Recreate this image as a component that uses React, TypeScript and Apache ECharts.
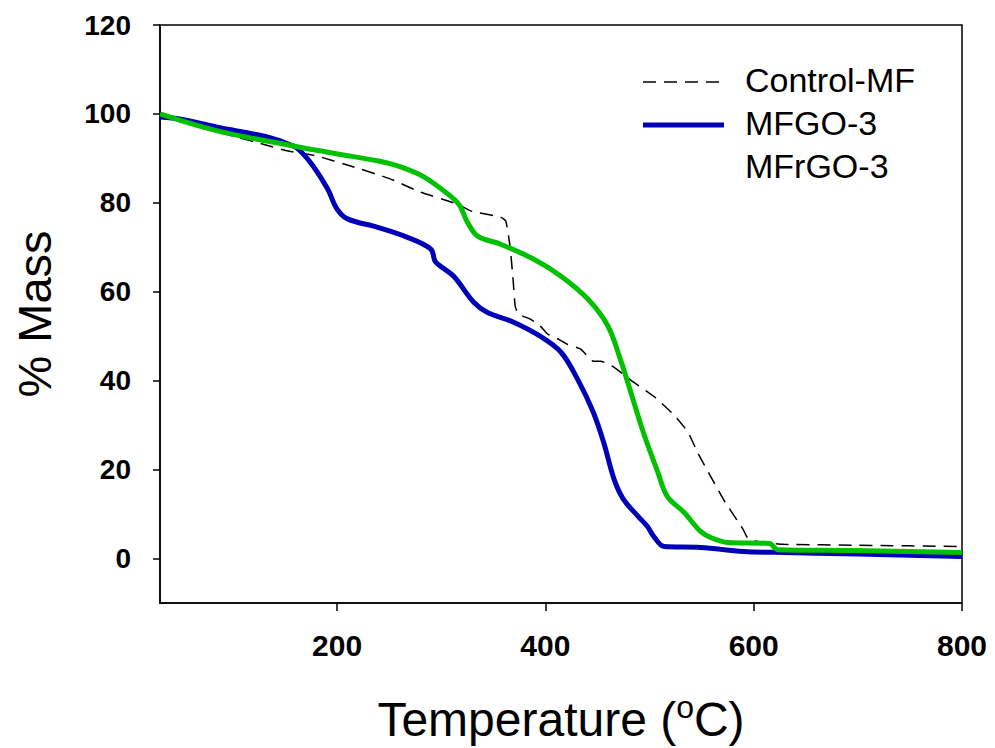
import React, { useEffect, useRef } from "react";
import * as echarts from "echarts";

const controlT = [30, 60, 100, 129, 152, 181, 213, 251, 280, 316, 328, 357, 362, 366, 369, 371, 374, 386, 395, 402, 413, 421, 434, 446, 453, 466, 485, 504, 523, 537, 546, 571, 590, 594, 604, 629, 700, 800];
const controlMass = [100, 97.5, 95, 93.2, 91.7, 90.5, 88.3, 85.4, 82.4, 79.7, 78.2, 76.8, 75.9, 70.3, 62.8, 56.8, 55, 53.8, 52.3, 50.5, 49.3, 48.2, 47.1, 44.4, 44.4, 43, 39.6, 36.5, 32.4, 28.4, 23.9, 13.3, 6.5, 4.7, 3.8, 3.2, 3.0, 2.7];

const mfgoT = [30, 50, 85, 133, 158, 165, 177, 191, 200, 210, 239, 267, 290, 294, 299, 312, 331, 344, 369, 395, 415, 431, 446, 456, 466, 475, 489, 498, 504, 514, 549, 590, 619, 700, 800];
const mfgoMass = [99.3, 98.8, 97, 94.8, 92.8, 91.6, 88.3, 83.1, 78.6, 76.4, 74.5, 72.3, 69.6, 66.9, 65.8, 63.5, 57.7, 55.4, 53.2, 50, 46.4, 40.3, 32.9, 26.1, 17.8, 13.3, 9.5, 7.2, 5, 2.7, 2.5, 1.6, 1.4, 1.0, 0.45];

const mfrgoT = [30, 85, 158, 213, 240, 261, 283, 309, 318, 325, 335, 357, 389, 415, 441, 460, 472, 482, 494, 508, 517, 533, 549, 559, 575, 615, 623, 693, 800];
const mfrgoMass = [100, 96.2, 92.8, 90.5, 89.4, 88.1, 85.9, 81.5, 79.3, 75.7, 72.5, 70.7, 67.3, 63.5, 58.3, 52.3, 44.8, 37.4, 28.4, 19.4, 14, 10.4, 6.1, 4.7, 3.6, 3.4, 2, 1.8, 1.35];

const seriesNames = ["Control-MF", "MFGO-3", "MFrGO-3"];
const xTicks = [200, 400, 600, 800];
const yTicks = [0, 20, 40, 60, 80, 100, 120];

const zip = (a: number[], b: number[]) => a.map((t, i) => [t, b[i]]);

export default function App() {
  const ref = useRef<HTMLDivElement>(null);
  useEffect(() => {
    if (!ref.current) return;
    const chart = echarts.init(ref.current, null, { renderer: "svg" });
    const font = "'Liberation Sans', Arial, sans-serif";
    chart.setOption({
      animation: false,
      textStyle: { fontFamily: font },
      grid: { left: 160, right: 33, top: 25, bottom: 145, show: true, borderColor: "#000", borderWidth: 1.5, backgroundColor: "transparent" },
      xAxis: {
        type: "value",
        min: 30,
        max: 800,
        name: "Temperature ({s|o}C)",
        nameLocation: "middle",
        nameGap: 88,
        nameTextStyle: {
          fontSize: 48,
          color: "#000",
          fontFamily: font,
          rich: { s: { fontSize: 32, color: "#000", fontFamily: font, padding: [0, 0, 24, 0] } },
        },
        axisLine: { onZero: false, lineStyle: { color: "#000", width: 1.5 } },
        axisTick: { customValues: xTicks, length: 8, lineStyle: { color: "#000", width: 1.5 } },
        axisLabel: { customValues: xTicks, fontSize: 30, fontWeight: "bold", color: "#000", margin: 27, fontFamily: font },
        splitLine: { show: false },
      },
      yAxis: {
        type: "value",
        min: -10,
        max: 120,
        name: "% Mass",
        nameLocation: "middle",
        nameGap: 102,
        nameRotate: 90,
        nameTextStyle: { fontSize: 47, color: "#000", fontFamily: font },
        axisLine: { onZero: false, lineStyle: { color: "#000", width: 1.5 } },
        axisTick: { customValues: yTicks, length: 7, lineStyle: { color: "#000", width: 1.5 } },
        axisLabel: { customValues: yTicks, fontSize: 28, fontWeight: "bold", color: "#000", margin: 29, fontFamily: font },
        splitLine: { show: false },
      },
      series: [
        {
          name: seriesNames[0],
          type: "line",
          data: zip(controlT, controlMass),
          showSymbol: false,
          smooth: 0.15,
          lineStyle: { color: "#000", width: 1.5, type: [13, 8] },
          z: 2,
        },
        {
          name: seriesNames[1],
          type: "line",
          data: zip(mfgoT, mfgoMass),
          showSymbol: false,
          smooth: 0.35,
          lineStyle: { color: "#0000B8", width: 5, join: "round" },
          z: 3,
        },
        {
          name: seriesNames[2],
          type: "line",
          data: zip(mfrgoT, mfrgoMass),
          showSymbol: false,
          smooth: 0.35,
          lineStyle: { color: "#00C000", width: 5, join: "round" },
          z: 4,
        },
      ],
      graphic: [
        { type: "line", shape: { x1: 643, y1: 82, x2: 724, y2: 82 }, style: { stroke: "#000", lineWidth: 1.5, lineDash: [13, 8] } },
        { type: "line", shape: { x1: 643, y1: 125, x2: 724, y2: 125 }, style: { stroke: "#0000B8", lineWidth: 5 } },
        { type: "text", x: 745, y: 80, style: { text: seriesNames[0], fontSize: 34, fill: "#000", fontFamily: font, verticalAlign: "middle" } },
        { type: "text", x: 745, y: 123, style: { text: seriesNames[1], fontSize: 34, fill: "#000", fontFamily: font, verticalAlign: "middle" } },
        { type: "text", x: 745, y: 166, style: { text: seriesNames[2], fontSize: 34, fill: "#000", fontFamily: font, verticalAlign: "middle" } },
      ],
    });
    return () => chart.dispose();
  }, []);
  return <div ref={ref} style={{ width: 995, height: 748, position: "absolute", left: 0, top: 0 }} />;
}
